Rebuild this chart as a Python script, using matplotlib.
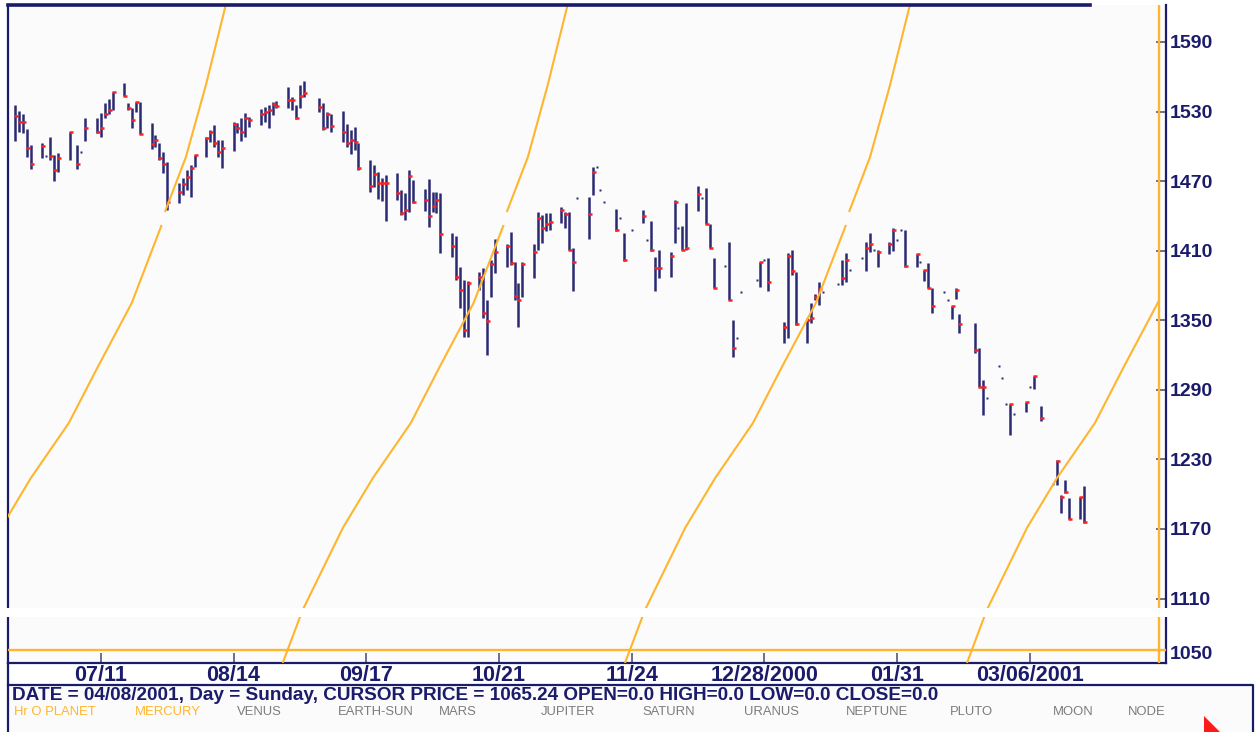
import matplotlib
matplotlib.use('Agg')
import matplotlib.pyplot as plt
import matplotlib.dates as mdates
from matplotlib.patches import Rectangle, Polygon
from matplotlib.lines import Line2D
import numpy as np
import pandas as pd

# ---------------- data ----------------
bar_dates = [
    '2000-06-19', '2000-06-20', '2000-06-21', '2000-06-22', '2000-06-23',
    '2000-06-26', '2000-06-27', '2000-06-28', '2000-06-29', '2000-06-30',
    '2000-07-03', '2000-07-05', '2000-07-06', '2000-07-07',
    '2000-07-10', '2000-07-11', '2000-07-12', '2000-07-13', '2000-07-14',
    '2000-07-17', '2000-07-18', '2000-07-19', '2000-07-20', '2000-07-21',
    '2000-07-24', '2000-07-25', '2000-07-26', '2000-07-27', '2000-07-28',
    '2000-07-31', '2000-08-01', '2000-08-02', '2000-08-03', '2000-08-04',
    '2000-08-07', '2000-08-08', '2000-08-09', '2000-08-10', '2000-08-11',
    '2000-08-14', '2000-08-15', '2000-08-16', '2000-08-17', '2000-08-18',
    '2000-08-21', '2000-08-22', '2000-08-23', '2000-08-24', '2000-08-25',
    '2000-08-28', '2000-08-29', '2000-08-30', '2000-08-31', '2000-09-01',
    '2000-09-05', '2000-09-06', '2000-09-07', '2000-09-08',
    '2000-09-11', '2000-09-12', '2000-09-13', '2000-09-14', '2000-09-15',
    '2000-09-18', '2000-09-19', '2000-09-20', '2000-09-21', '2000-09-22',
    '2000-09-25', '2000-09-26', '2000-09-27', '2000-09-28', '2000-09-29',
    '2000-10-02', '2000-10-03', '2000-10-04', '2000-10-05', '2000-10-06',
    '2000-10-09', '2000-10-10', '2000-10-11', '2000-10-12', '2000-10-13',
    '2000-10-16', '2000-10-17', '2000-10-18', '2000-10-19', '2000-10-20',
    '2000-10-23', '2000-10-24', '2000-10-25', '2000-10-26', '2000-10-27',
    '2000-10-30', '2000-10-31', '2000-11-01', '2000-11-02', '2000-11-03',
    '2000-11-06', '2000-11-07', '2000-11-08', '2000-11-09', '2000-11-10',
    '2000-11-13', '2000-11-14', '2000-11-15', '2000-11-16', '2000-11-17',
    '2000-11-20', '2000-11-21', '2000-11-22', '2000-11-24',
    '2000-11-27', '2000-11-28', '2000-11-29', '2000-11-30', '2000-12-01',
    '2000-12-04', '2000-12-05', '2000-12-06', '2000-12-07', '2000-12-08',
    '2000-12-11', '2000-12-12', '2000-12-13', '2000-12-14', '2000-12-15',
    '2000-12-18', '2000-12-19', '2000-12-20', '2000-12-21', '2000-12-22',
    '2000-12-26', '2000-12-27', '2000-12-28', '2000-12-29',
    '2001-01-02', '2001-01-03', '2001-01-04', '2001-01-05',
    '2001-01-08', '2001-01-09', '2001-01-10', '2001-01-11', '2001-01-12',
    '2001-01-16', '2001-01-17', '2001-01-18', '2001-01-19',
    '2001-01-22', '2001-01-23', '2001-01-24', '2001-01-25', '2001-01-26',
    '2001-01-29', '2001-01-30', '2001-01-31', '2001-02-01', '2001-02-02',
    '2001-02-05', '2001-02-06', '2001-02-07', '2001-02-08', '2001-02-09',
    '2001-02-12', '2001-02-13', '2001-02-14', '2001-02-15', '2001-02-16',
    '2001-02-20', '2001-02-21', '2001-02-22', '2001-02-23',
    '2001-02-26', '2001-02-27', '2001-02-28', '2001-03-01', '2001-03-02',
    '2001-03-05', '2001-03-06', '2001-03-07', '2001-03-09',
    '2001-03-12', '2001-03-13', '2001-03-14', '2001-03-15', '2001-03-16',
    '2001-03-19', '2001-03-20',
]
bar_high = [
    1535.6, 1530.5, 1527.6, 1515.0, 1501.2,
    1502.6, 1491.9, 1508.3, 1492.5, 1494.0,
    1512.6, 1501.2, 1494.9, 1524.2,
    1524.7, 1528.5, 1537.1, 1540.8, 1547.1,
    1554.4, 1537.1, 1532.8, 1538.5, 1538.0,
    1519.9, 1509.8, 1502.6, 1495.4, 1486.8,
    1468.1, 1472.4, 1479.6, 1483.9, 1492.5,
    1508.3, 1514.1, 1518.4, 1505.5, 1505.5,
    1521.2, 1519.9, 1524.7, 1528.5, 1525.6,
    1532.2, 1534.2, 1535.6, 1538.0, 1539.1,
    1551.4, 1542.8, 1535.6, 1552.9, 1556.3,
    1541.9, 1537.1, 1529.4, 1527.6,
    1530.5, 1519.0, 1514.1, 1516.9, 1502.6,
    1488.2, 1483.9, 1478.1, 1472.4, 1475.3,
    1476.7, 1462.3, 1459.5, 1479.6, 1471.0,
    1463.2, 1471.6, 1460.6, 1460.9, 1459.5,
    1425.0, 1422.7, 1395.7, 1384.7, 1384.1,
    1391.9, 1394.8, 1367.5, 1402.0, 1419.8,
    1415.5, 1426.4, 1400.5, 1381.9, 1400.5,
    1415.8, 1443.6, 1440.8, 1442.2, 1442.2,
    1447.4, 1443.6, 1443.6, 1412.1, 1455.2,
    1456.0, 1481.9, 1481.9, 1462.3, 1451.7,
    1445.7, 1437.9, 1425.0, 1427.8,
    1445.1, 1419.2, 1435.9, 1404.3, 1410.6,
    1409.1, 1453.7, 1429.3, 1431.3, 1451.4,
    1466.1, 1455.2, 1464.3, 1432.8, 1404.0,
    1396.8, 1417.8, 1350.2, 1334.5, 1374.1,
    1384.7, 1400.5, 1402.0, 1404.0,
    1348.8, 1407.8, 1410.6, 1391.9,
    1351.7, 1364.6, 1372.4, 1383.3, 1374.1,
    1381.3, 1402.0, 1407.8, 1393.1,
    1404.0, 1417.8, 1425.0, 1410.6, 1410.6,
    1417.8, 1429.3, 1419.2, 1427.8, 1427.8,
    1406.9, 1400.0, 1393.4, 1399.1, 1378.1,
    1374.1, 1367.2, 1362.6, 1377.6, 1355.2,
    1347.4, 1326.3, 1298.5, 1282.7,
    1310.6, 1300.0, 1277.5, 1277.5, 1268.9,
    1279.8, 1292.7, 1302.2, 1276.3,
    1208.5, 1229.5, 1199.3, 1212.2, 1197.0,
    1197.8, 1207.3,
]
bar_low = [
    1504.6, 1512.6, 1511.5, 1491.1, 1480.5,
    1489.7, 1491.9, 1488.2, 1470.1, 1478.1,
    1488.2, 1480.5, 1494.9, 1504.6,
    1511.2, 1508.3, 1524.7, 1527.6, 1531.3,
    1543.7, 1531.3, 1515.6, 1529.4, 1510.4,
    1497.7, 1499.7, 1488.2, 1476.7, 1445.1,
    1450.9, 1458.0, 1462.3, 1456.6, 1482.4,
    1491.1, 1504.0, 1499.7, 1491.1, 1481.1,
    1496.0, 1511.2, 1504.6, 1508.3, 1516.9,
    1518.4, 1521.2, 1516.1, 1527.0, 1532.8,
    1532.8, 1531.3, 1523.6, 1532.8, 1542.8,
    1529.4, 1514.1, 1515.6, 1512.1,
    1504.0, 1499.7, 1493.1, 1496.8, 1479.6,
    1460.9, 1465.2, 1454.6, 1452.9, 1435.6,
    1453.7, 1440.8, 1436.5, 1443.6, 1450.9,
    1444.2, 1430.7, 1443.4, 1442.2, 1408.3,
    1404.8, 1384.7, 1360.3, 1335.3, 1335.3,
    1376.1, 1351.7, 1320.1, 1370.3, 1390.5,
    1396.2, 1397.7, 1367.5, 1344.5, 1370.3,
    1386.2, 1410.6, 1416.4, 1427.2, 1427.8,
    1433.6, 1429.3, 1410.6, 1375.5, 1455.2,
    1419.8, 1458.0, 1481.9, 1462.3, 1451.7,
    1427.2, 1437.9, 1401.4, 1427.8,
    1434.1, 1419.2, 1410.0, 1375.5, 1386.2,
    1387.6, 1416.9, 1429.3, 1410.6, 1410.6,
    1444.5, 1455.2, 1432.8, 1412.1, 1377.6,
    1396.8, 1367.5, 1318.6, 1334.5, 1374.1,
    1384.7, 1379.0, 1402.0, 1375.2,
    1330.1, 1335.0, 1389.0, 1345.9,
    1330.1, 1347.4, 1367.5, 1363.2, 1374.1,
    1381.3, 1380.4, 1383.3, 1393.1,
    1404.0, 1392.5, 1409.1, 1410.6, 1396.2,
    1406.9, 1409.7, 1419.2, 1427.8, 1396.2,
    1396.2, 1400.0, 1383.9, 1377.6, 1356.0,
    1374.1, 1367.2, 1351.1, 1368.3, 1338.8,
    1321.5, 1292.7, 1268.3, 1282.7,
    1310.6, 1300.0, 1277.5, 1251.1, 1268.9,
    1271.2, 1292.7, 1290.7, 1263.1,
    1208.5, 1207.9, 1183.5, 1200.8, 1178.6,
    1178.6, 1174.9,
]
bar_close = [
    1526.4, 1521.2, 1521.2, 1498.8, 1484.5,
    1500.5, 1491.9, 1491.9, 1479.6, 1489.7,
    1512.1, 1484.5, 1494.9, 1516.1,
    1512.6, 1516.1, 1527.6, 1531.3, 1547.1,
    1543.7, 1532.8, 1522.7, 1538.5, 1510.4,
    1501.8, 1505.5, 1490.2, 1484.5, 1452.3,
    1460.4, 1467.3, 1473.8, 1481.1, 1492.5,
    1507.5, 1512.6, 1502.6, 1495.4, 1498.8,
    1519.3, 1516.1, 1512.1, 1524.7, 1522.7,
    1527.6, 1529.4, 1531.3, 1536.3, 1535.0,
    1540.0, 1540.0, 1524.7, 1543.7, 1545.7,
    1534.2, 1516.1, 1527.6, 1517.8,
    1512.1, 1502.6, 1505.5, 1504.0, 1481.1,
    1466.1, 1475.9, 1468.1, 1468.1, 1468.1,
    1459.5, 1442.2, 1445.1, 1474.7, 1452.3,
    1453.7, 1440.2, 1448.5, 1453.7, 1424.4,
    1414.0, 1387.6, 1376.1, 1341.6, 1382.4,
    1387.6, 1356.5, 1349.6, 1398.5, 1408.9,
    1414.0, 1399.7, 1370.9, 1367.5, 1398.5,
    1409.1, 1437.9, 1429.3, 1433.0, 1435.0,
    1445.1, 1441.6, 1410.6, 1400.0, 1455.2,
    1441.6, 1477.9, 1481.9, 1462.3, 1451.7,
    1427.8, 1437.9, 1402.0, 1427.8,
    1439.9, 1419.2, 1410.6, 1394.8, 1394.8,
    1405.4, 1452.3, 1429.3, 1410.6, 1412.1,
    1458.6, 1455.2, 1432.8, 1412.1, 1377.6,
    1396.8, 1367.5, 1325.8, 1334.5, 1374.1,
    1384.7, 1400.0, 1402.0, 1382.7,
    1344.5, 1405.7, 1392.5, 1346.5,
    1350.2, 1351.7, 1370.3, 1377.0, 1374.1,
    1381.3, 1386.2, 1402.0, 1393.1,
    1404.0, 1412.1, 1415.5, 1410.6, 1409.1,
    1415.5, 1427.8, 1419.2, 1427.8, 1396.8,
    1406.9, 1400.0, 1393.4, 1378.1, 1362.6,
    1374.1, 1367.2, 1362.6, 1376.1, 1346.5,
    1324.4, 1292.7, 1292.7, 1282.7,
    1310.6, 1300.0, 1277.5, 1277.5, 1268.9,
    1279.3, 1292.7, 1301.9, 1265.5,
    1208.5, 1228.9, 1197.9, 1201.6, 1178.6,
    1197.8, 1175.8,
]

# Heliocentric Mercury lines (NaN marks the small break in each line)
merc1_dates = ['2000-05-31 00:00', '2000-06-05 02:00', '2000-06-15 10:00', '2000-06-23 02:00',
               '2000-07-02 19:00', '2000-07-10 05:00', '2000-07-18 22:00', '2000-07-26 14:00',
               '2000-07-27 00:00', '2000-07-27 10:00', '2000-08-01 19:00', '2000-08-06 22:00',
               '2000-08-12 00:00']
merc2_dates = ['2000-08-26 14:00', '2000-08-31 17:00', '2000-09-11 00:00', '2000-09-18 17:00',
               '2000-09-28 10:00', '2000-10-05 19:00', '2000-10-14 12:00', '2000-10-22 05:00',
               '2000-10-22 14:00', '2000-10-23 00:00', '2000-10-28 10:00', '2000-11-02 12:00',
               '2000-11-07 14:00']
merc3_dates = ['2000-11-22 07:00', '2000-11-27 10:00', '2000-12-07 17:00', '2000-12-15 10:00',
               '2000-12-25 02:00', '2001-01-01 12:00', '2001-01-10 05:00', '2001-01-17 22:00',
               '2001-01-18 08:00', '2001-01-18 17:00', '2001-01-24 02:00', '2001-01-29 05:00',
               '2001-02-03 07:00']
merc_prices = [1054.4, 1100.1, 1170.9, 1214.0, 1261.4, 1309.7, 1364.9, 1432.2,
               np.nan, 1443.4, 1490.8, 1552.9, 1621.9]
merc4_dates = ['2001-02-17 22:00', '2001-02-23 00:00', '2001-03-05 07:00', '2001-03-13 00:00',
               '2001-03-22 17:00', '2001-03-30 02:00', '2001-04-07 19:00', '2001-04-08 00:00']
merc4_prices = [1054.4, 1100.1, 1170.9, 1214.0, 1261.4, 1309.7, 1364.9, 1366.6]

cursor_date = '2001-04-08'
cursor_price = 1065.24

x_tick_dates = ['2000-07-11', '2000-08-14', '2000-09-17', '2000-10-21',
                '2000-11-24', '2000-12-28', '2001-01-31', '2001-03-06']
x_tick_labels = ['07/11', '08/14', '09/17', '10/21', '11/24', '12/28/2000', '01/31', '03/06/2001']
y_ticks = [1110, 1170, 1230, 1290, 1350, 1410, 1470, 1530, 1590]
y_bottom_label = '1050'

status_text = ('DATE = 04/08/2001, Day = Sunday, CURSOR PRICE = 1065.24 '
               'OPEN=0.0 HIGH=0.0 LOW=0.0 CLOSE=0.0')
planet_names = ['Hr O PLANET', 'MERCURY', 'VENUS', 'EARTH-SUN', 'MARS', 'JUPITER',
                'SATURN', 'URANUS', 'NEPTUNE', 'PLUTO', 'MOON', 'NODE']
planet_active = [True, True, False, False, False, False, False, False, False, False, False, False]

# ---------------- style ----------------
NAVY = '#1b1b6b'
BAR = '#2a2a72'
RED = '#ff2020'
ORANGE = '#ffb52e'
GRAY = '#7c7c7c'
BOLD = ['Liberation Sans', 'DejaVu Sans']

W, H = 1255, 732
fig = plt.figure(figsize=(W / 100, H / 100), dpi=100, facecolor='white')


def fx(px):
    return px / W


def fy(py):
    return 1 - py / H


ax = fig.add_axes([fx(8), fy(663), fx(1166) - fx(8), fy(5) - fy(663)])
ax.set_facecolor('#fbfbfb')

d = mdates.date2num(pd.to_datetime(bar_dates))
hi = np.array(bar_high)
lo = np.array(bar_low)
cl = np.array(bar_close)
is_bar = hi > lo

# price bars
ax.vlines(d[is_bar], lo[is_bar], hi[is_bar], color=BAR, lw=1.8, zorder=3)
# close marks
close_marker = [(-0.3, 0), (1.0, 0)]
ax.plot(d[is_bar], cl[is_bar], ls='none', marker=close_marker, ms=4.6,
        mec=RED, mfc=RED, mew=1.8, zorder=4)
# single-price bars (dots)
ax.plot(d[~is_bar], cl[~is_bar], ls='none', marker='s', ms=2.0,
        mfc=BAR, mec='none', zorder=4)

# Mercury lines
for dts, prs in [(merc1_dates, merc_prices), (merc2_dates, merc_prices),
                 (merc3_dates, merc_prices), (merc4_dates, merc4_prices)]:
    ax.plot(mdates.date2num(pd.to_datetime(dts)), prs, color=ORANGE, lw=1.5,
            zorder=5, solid_capstyle='butt', solid_joinstyle='round')

# cursor lines
ax.axvline(mdates.date2num(pd.Timestamp(cursor_date)), color=ORANGE, lw=1.7, zorder=5)
ax.axhline(cursor_price, color=ORANGE, lw=1.7, zorder=5)

# limits
ax.set_xlim(mdates.date2num(pd.Timestamp('2000-06-17 05:00')),
            mdates.date2num(pd.Timestamp('2001-04-09 22:00')))
ax.set_ylim(1054.4, 1621.9)

# x ticks
ax.set_xticks(mdates.date2num(pd.to_datetime(x_tick_dates)))
ax.set_xticklabels(x_tick_labels, fontfamily=BOLD, fontweight='bold', fontsize=15.5, color=NAVY)
ax.tick_params(axis='x', direction='in', length=7, width=1.2, color='#55557a', pad=1.5)

# y ticks on right
ax.yaxis.tick_right()
ax.set_yticks(y_ticks)
ax.set_yticklabels([str(v) for v in y_ticks], fontfamily=BOLD, fontweight='bold',
                   fontsize=14, color=NAVY)
ax.tick_params(axis='y', direction='in', length=7, width=1.2, color='#55557a', pad=3,
               left=False, right=True)
ax.text(1.003, 0.0, y_bottom_label, transform=ax.transAxes, ha='left', va='bottom',
        fontfamily=BOLD, fontweight='bold', fontsize=14, color=NAVY)

for side in ['left', 'bottom', 'right']:
    ax.spines[side].set_color(NAVY)
    ax.spines[side].set_linewidth(1.6)
ax.spines['top'].set_visible(False)
ax.plot([0, (1090 - 8) / (1166 - 8)], [1, 1], transform=ax.transAxes, color=NAVY,
        lw=2.6, clip_on=False, zorder=6)

# left frame continuing down to the status panel
fig.add_artist(Line2D([fx(8), fx(8)], [fy(663), 0], transform=fig.transFigure,
                      color=NAVY, lw=1.6))

# status panel
fig.add_artist(Rectangle((fx(8), 0), fx(1253) - fx(8), fy(685), transform=fig.transFigure,
                         facecolor='#fbfbfb', edgecolor='none', zorder=1))
fig.add_artist(Line2D([fx(8), fx(1253), fx(1253)], [fy(685), fy(685), 0],
                      transform=fig.transFigure, color=NAVY, lw=1.6, zorder=2))
fig.text(fx(12), fy(695), status_text, ha='left', va='center', fontfamily=BOLD,
         fontweight='bold', fontsize=13.7, color=NAVY, zorder=3)

planet_x = [14, 135, 237, 338, 439, 541, 642, 744, 846, 950, 1053, 1128]
for name, active, px in zip(planet_names, planet_active, planet_x):
    fig.text(fx(px), fy(712), name, ha='left', va='center',
             fontfamily=['Liberation Sans', 'DejaVu Sans'], fontsize=9.4,
             color=ORANGE if active else GRAY, zorder=3)

# red pointer in the status panel
fig.add_artist(Polygon([(fx(1204), fy(716)), (fx(1204), fy(732)), (fx(1220), fy(732))],
                       closed=True, transform=fig.transFigure, facecolor='#ff1a1a',
                       edgecolor='none', zorder=3))

# white band across the picture
fig.add_artist(Rectangle((0, fy(617)), 1, fy(608) - fy(617), transform=fig.transFigure,
                         facecolor='white', edgecolor='none', zorder=100))

fig.savefig('out.png', dpi=100, facecolor='white')
